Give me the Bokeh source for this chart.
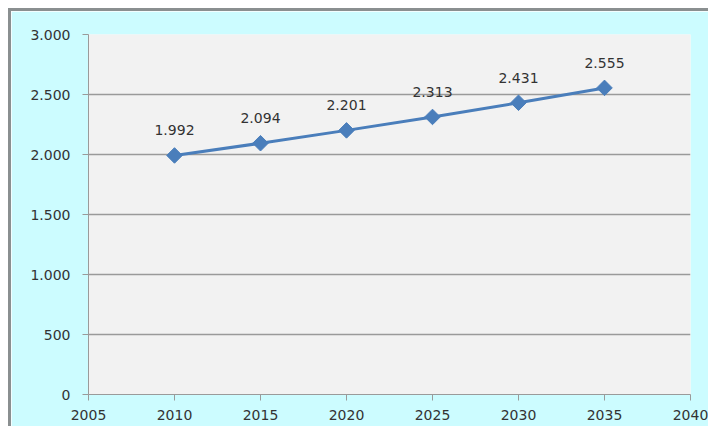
import math
from bokeh.plotting import figure
from bokeh.models import ColumnDataSource, FixedTicker, Range1d
from bokeh.core.properties import value
from bokeh.embed import file_html
from bokeh.resources import INLINE

years = [2010, 2015, 2020, 2025, 2030, 2035]
values = [1992, 2094, 2201, 2313, 2431, 2555]
labels = ["1.992", "2.094", "2.201", "2.313", "2.431", "2.555"]
x_ticks = [2005, 2010, 2015, 2020, 2025, 2030, 2035, 2040]
y_ticks = [0, 500, 1000, 1500, 2000, 2500, 3000]
y_tick_labels = ["0", "500", "1.000", "1.500", "2.000", "2.500", "3.000"]

FONT = "DejaVu Sans"
TEXT_COLOR = "#333333"
src = ColumnDataSource(dict(x=years, y=values, label=labels))

p = figure(width=700, height=418, output_backend="svg", toolbar_location=None,
           x_range=Range1d(2005, 2040), y_range=Range1d(0, 3000),
           min_border_left=77, min_border_right=21, min_border_top=23, min_border_bottom=35)
p.margin = (8, 0, 0, 8)
p.styles = {"border-top": "3px solid #8a8f90", "border-left": "3px solid #8a8f90"}
p.border_fill_color = "#CCFCFF"
p.background_fill_color = "#F2F2F2"
p.outline_line_color = None

p.xaxis.ticker = FixedTicker(ticks=x_ticks)
p.yaxis.ticker = FixedTicker(ticks=y_ticks)
p.yaxis.major_label_overrides = {t: l for t, l in zip(y_ticks, y_tick_labels)}
p.xaxis.major_label_overrides = {t: str(t) for t in x_ticks}

for ax in (p.xaxis, p.yaxis):
    ax.axis_line_color = "#9a9a9a"
    ax.major_tick_line_color = "#9a9a9a"
    ax.major_tick_out = 6
    ax.major_tick_in = 0
    ax.minor_tick_line_color = None
    ax.major_label_text_font = FONT
    ax.major_label_text_font_size = "14px"
    ax.major_label_text_color = TEXT_COLOR
p.yaxis.major_label_standoff = 12
p.xaxis.major_label_standoff = 9

p.xgrid.grid_line_color = None
p.ygrid.grid_line_color = "#9a9a9a"
p.ygrid.grid_line_width = 1.5

p.line("x", "y", source=src, line_color="#4A7EBB", line_width=3)
p.scatter("x", "y", source=src, marker="square", size=11, angle=math.pi / 4,
          fill_color="#4A7EBB", line_color="#4A7EBB", line_width=1)
p.text("x", "y", text="label", source=src, text_align="center", text_baseline="alphabetic",
       y_offset=-25, text_font=value(FONT), text_font_size="14px", text_color=TEXT_COLOR)

open("out.html", "w").write(file_html(p, INLINE))
